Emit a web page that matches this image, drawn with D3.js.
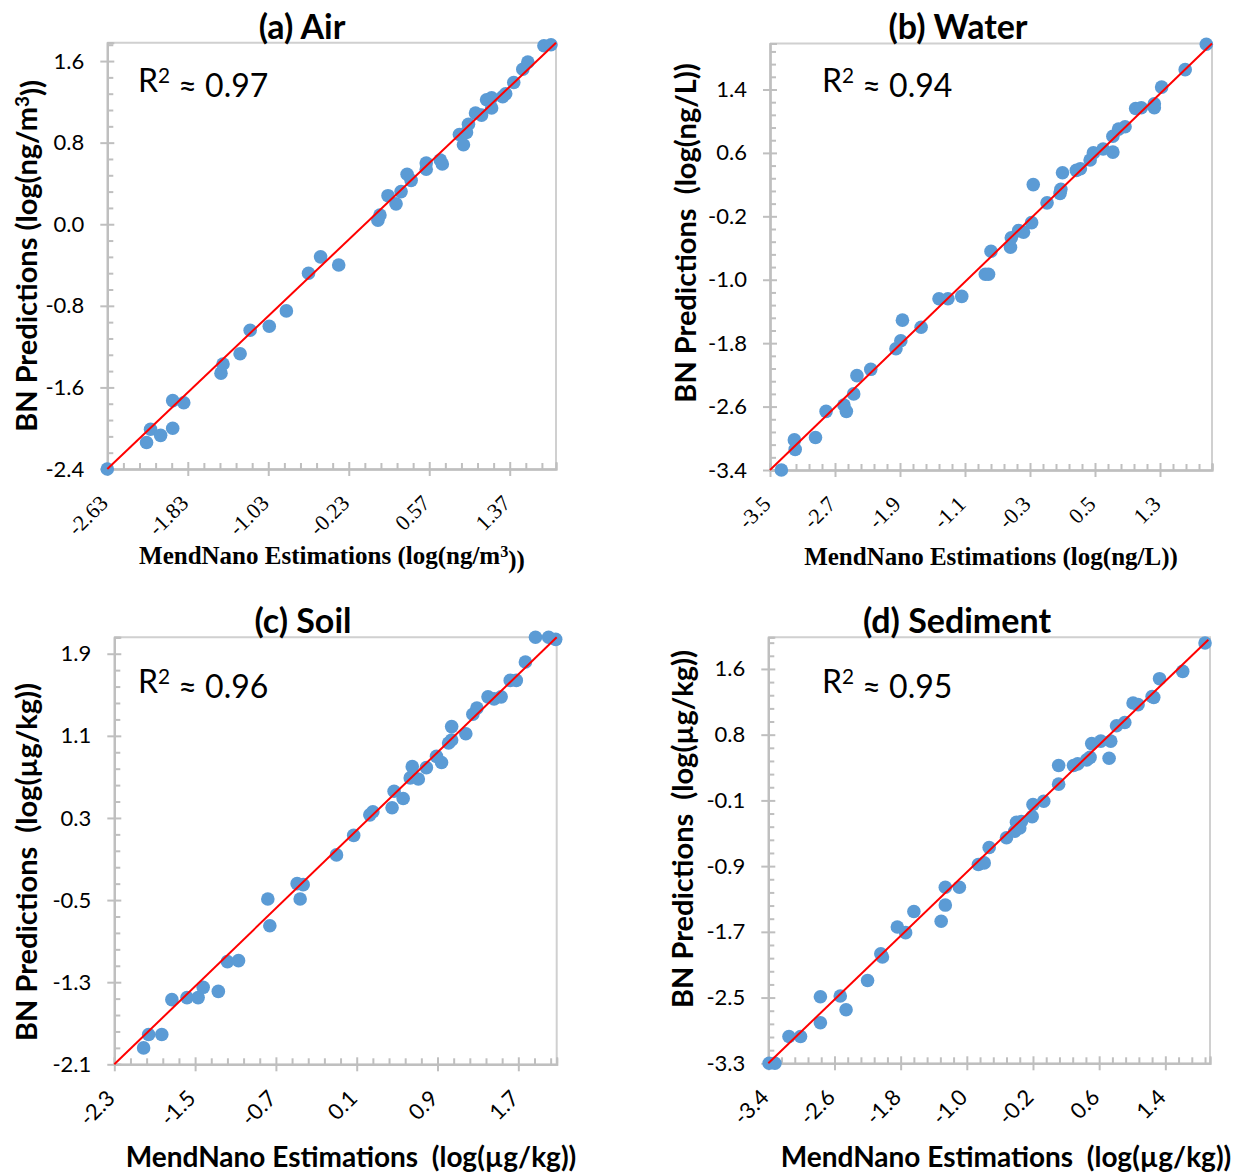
<!DOCTYPE html>
<html>
<head>
<meta charset="utf-8">
<script src="https://cdn.jsdelivr.net/npm/d3@7"></script>
<style>
  body { margin: 0; background: #fff; }
  svg { display: block; }
</style>
</head>
<body>
<svg id="fig" width="1233" height="1173"></svg>
<script>
// ---------- values: MendNano estimations (x) vs BN predictions (y) ----------
const airX = [-2.63, -2.24, -2.20, -2.10, -1.98, -1.98, -1.87, -1.50, -1.48, -1.31, -1.21, -1.02, -0.85, -0.63, -0.51, -0.33,
  0.06, 0.08, 0.16, 0.24, 0.29, 0.35, 0.39, 0.54, 0.54, 0.68, 0.70, 0.87, 0.91, 0.94, 0.96, 1.03, 1.09, 1.14, 1.19, 1.19,
  1.30, 1.33, 1.41, 1.50, 1.55, 1.71, 1.78];
const airY = [-2.40, -2.14, -2.01, -2.07, -2.00, -1.73, -1.75, -1.46, -1.37, -1.27, -1.04, -1.00, -0.85, -0.48, -0.32, -0.40,
  0.04, 0.09, 0.28, 0.20, 0.32, 0.49, 0.43, 0.60, 0.54, 0.63, 0.59, 0.88, 0.78, 0.90, 0.98, 1.09, 1.07, 1.22, 1.24, 1.14,
  1.25, 1.28, 1.39, 1.52, 1.59, 1.75, 1.76];

const waterX = [-3.36, -3.20, -3.19, -2.94, -2.81, -2.59, -2.56, -2.47, -2.43, -2.26, -1.95, -1.89, -1.87, -1.64, -1.42, -1.31,
  -1.14, -0.85, -0.81, -0.78, -0.54, -0.53, -0.44, -0.38, -0.28, -0.26, -0.09, 0.07, 0.08, 0.10, 0.27, 0.32, 0.44, 0.48,
  0.60, 0.72, 0.72, 0.79, 0.87, 1.00, 1.07, 1.23, 1.23, 1.32, 1.61, 1.87];
const waterY = [-3.40, -3.02, -3.14, -2.99, -2.66, -2.58, -2.66, -2.44, -2.21, -2.13, -1.87, -1.77, -1.51, -1.60, -1.24, -1.24,
  -1.21, -0.93, -0.93, -0.64, -0.59, -0.47, -0.38, -0.40, -0.28, 0.20, -0.03, 0.09, 0.14, 0.35, 0.38, 0.40, 0.51, 0.60,
  0.65, 0.61, 0.81, 0.90, 0.93, 1.16, 1.17, 1.17, 1.22, 1.43, 1.65, 1.97];

const soilX = [-2.01, -1.96, -1.83, -1.73, -1.58, -1.47, -1.42, -1.27, -1.18, -1.07, -0.78, -0.76, -0.49, -0.43, -0.46, -0.10,
  0.07, 0.23, 0.26, 0.45, 0.47, 0.56, 0.63, 0.65, 0.71, 0.79, 0.89, 0.94, 1.01, 1.04, 1.04, 1.18, 1.25, 1.29, 1.40, 1.46,
  1.53, 1.62, 1.68, 1.77, 1.87, 2.00, 2.07];
const soilY = [-1.94, -1.81, -1.81, -1.47, -1.45, -1.45, -1.35, -1.39, -1.10, -1.09, -0.49, -0.75, -0.34, -0.35, -0.49, -0.06,
  0.13, 0.33, 0.36, 0.40, 0.56, 0.49, 0.69, 0.80, 0.68, 0.79, 0.90, 0.84, 1.03, 1.06, 1.19, 1.12, 1.31, 1.37, 1.48, 1.46,
  1.48, 1.64, 1.64, 1.82, 2.06, 2.06, 2.04];

const sedimentX = [-3.39, -3.32, -3.15, -3.01, -2.77, -2.77, -2.53, -2.46, -2.20, -2.04, -2.02, -1.84, -1.74, -1.64, -1.31, -1.26,
  -1.26, -1.09, -0.86, -0.79, -0.73, -0.52, -0.42, -0.40, -0.34, -0.36, -0.21, -0.20, -0.07, 0.11, 0.11, 0.29, 0.34, 0.45,
  0.49, 0.51, 0.62, 0.74, 0.72, 0.81, 0.91, 1.01, 1.07, 1.24, 1.26, 1.33, 1.61, 1.88];
const sedimentY = [-3.30, -3.30, -2.97, -2.97, -2.80, -2.48, -2.47, -2.64, -2.28, -1.95, -1.99, -1.62, -1.69, -1.43, -1.55, -1.35,
  -1.13, -1.13, -0.85, -0.83, -0.64, -0.52, -0.44, -0.33, -0.32, -0.40, -0.26, -0.11, -0.07, 0.14, 0.37, 0.37, 0.39, 0.44,
  0.47, 0.64, 0.67, 0.67, 0.46, 0.86, 0.90, 1.14, 1.12, 1.22, 1.21, 1.44, 1.53, 1.88];

// trendline end points (x, y) per medium
const airFit = [[-2.63, -2.40], [1.83, 1.78]];
const waterFit = [[-3.50, -3.40], [1.94, 1.98]];
const soilFit = [[-2.30, -2.10], [2.08, 2.06]];
const sedimentFit = [[-3.40, -3.30], [1.92, 1.92]];

// tick values
const airXTicks = [-2.63, -1.83, -1.03, -0.23, 0.57, 1.37];
const airYTicks = [-2.4, -1.6, -0.8, 0.0, 0.8, 1.6];
const waterXTicks = [-3.5, -2.7, -1.9, -1.1, -0.3, 0.5, 1.3];
const waterYTicks = [-3.4, -2.6, -1.8, -1.0, -0.2, 0.6, 1.4];
const soilXTicks = [-2.3, -1.5, -0.7, 0.1, 0.9, 1.7];
const soilYTicks = [-2.1, -1.3, -0.5, 0.3, 1.1, 1.9];
const sedimentXTicks = [-3.4, -2.6, -1.8, -1.0, -0.2, 0.6, 1.4];
const sedimentYTicks = [-3.3, -2.49, -1.68, -0.87, -0.06, 0.75, 1.56];

const panelTitles = ["(a) Air", "(b) Water", "(c) Soil", "(d) Sediment"];
const r2Values = ["0.97", "0.94", "0.96", "0.95"];

// ---------- layout ----------
const SANS = "Lato, 'Open Sans', sans-serif";
const SERIF = "'Liberation Serif', 'Times New Roman', serif";

const panels = [
  { title: panelTitles[0], r2: r2Values[0], xs: airX, ys: airY, fit: airFit,
    xDomain: [-2.63, 1.83], yDomain: [-2.4, 1.78], box: { l: 107.3, r: 556, t: 42.7, b: 469 },
    xTicks: airXTicks, yTicks: airYTicks, xStep: 0.8, yStep: 0.8, xDec: 2, yDec: 1,
    xTickFont: SERIF, xTitleFont: SERIF, xTitleSize: 25, xTitleX: 332, xTitleY: 564,
    xTitle: ["MendNano Estimations (log(ng/m", "3", "))"],
    yTitle: ["BN Predictions (log(ng/m", "3", "))"], yTitleX: 27, yTitleY: 256,
    titleX: 302, titleY: 39, r2X: 138, r2Y: 92 },
  { title: panelTitles[1], r2: r2Values[1], xs: waterX, ys: waterY, fit: waterFit,
    xDomain: [-3.5, 1.94], yDomain: [-3.4, 1.98], box: { l: 770, r: 1212, t: 43.5, b: 470 },
    xTicks: waterXTicks, yTicks: waterYTicks, xStep: 0.8, yStep: 0.8, xDec: 1, yDec: 1,
    xTitleFont: SERIF, xTickFont: SERIF, xTitleSize: 25, xTitleX: 991, xTitleY: 565,
    xTitle: ["MendNano Estimations (log(ng/L))"],
    yTitle: ["BN Predictions  (log(ng/L))"], yTitleX: 686, yTitleY: 233,
    titleX: 958, titleY: 39, r2X: 822, r2Y: 92 },
  { title: panelTitles[2], r2: r2Values[2], xs: soilX, ys: soilY, fit: soilFit,
    xDomain: [-2.3, 2.08], yDomain: [-2.1, 2.06], box: { l: 114.3, r: 556.7, t: 637.3, b: 1064.3 },
    xTicks: soilXTicks, yTicks: soilYTicks, xStep: 0.8, yStep: 0.8, xDec: 1, yDec: 1,
    xTickFont: SANS, xTitleFont: SANS, xTitleSize: 28, xTitleX: 351, xTitleY: 1167,
    xTitle: ["MendNano Estimations  (log(µg/kg))"],
    yTitle: ["BN Predictions  (log(µg/kg))"], yTitleX: 27, yTitleY: 862,
    titleX: 303, titleY: 633, r2X: 138, r2Y: 693 },
  { title: panelTitles[3], r2: r2Values[3], xs: sedimentX, ys: sedimentY, fit: sedimentFit,
    xDomain: [-3.4, 1.94], yDomain: [-3.3, 1.95], box: { l: 768.3, r: 1210, t: 637.3, b: 1063.3 },
    xTicks: sedimentXTicks, yTicks: sedimentYTicks, xStep: 0.8, yStep: 0.81, xDec: 1, yDec: 1,
    xTickFont: SANS, xTitleFont: SANS, xTitleSize: 28, xTitleX: 1006, xTitleY: 1167,
    xTitle: ["MendNano Estimations  (log(µg/kg))"],
    yTitle: ["BN Predictions  (log(µg/kg))"], yTitleX: 683, yTitleY: 829,
    titleX: 957, titleY: 633, r2X: 822, r2Y: 693 }
];

const AXIS_GREY = "#bfbfbf";
const FRAME_GREY = "#d0d0d0";
const DOT_BLUE = "#5b9bd5";
const FIT_RED = "#ff0000";

const svg = d3.select("#fig");

// writes text parts, raising every second part as a superscript
function addParts(text, parts) {
  parts.forEach((s, i) => {
    if (i % 2 === 1) {
      text.append("tspan").attr("font-size", "65%").attr("dy", "-0.45em").text(s);
    } else {
      const t = text.append("tspan").text(s);
      if (i > 0) t.attr("dy", "0.45em");
    }
  });
}

function minorValues(domain, step) {
  const out = [];
  const m = step / 5;
  for (let k = 1; domain[0] + k * m <= domain[1] + 1e-9; k++) {
    if (k % 5 !== 0) out.push(domain[0] + k * m);
  }
  return out;
}

panels.forEach(p => {
  const g = svg.append("g");
  const x = d3.scaleLinear().domain(p.xDomain).range([p.box.l, p.box.r]);
  const y = d3.scaleLinear().domain(p.yDomain).range([p.box.b, p.box.t]);

  // plot frame (top and right edges)
  g.append("path")
    .attr("d", `M${p.box.l},${p.box.t}H${p.box.r}V${p.box.b}`)
    .attr("fill", "none").attr("stroke", FRAME_GREY).attr("stroke-width", 2);

  const styleAxis = sel => {
    sel.selectAll("path.domain").attr("stroke", AXIS_GREY).attr("stroke-width", 2);
    sel.selectAll(".tick line").attr("stroke", AXIS_GREY).attr("stroke-width", 2);
  };

  // minor ticks (inside)
  g.append("g").attr("transform", `translate(${p.box.l},0)`)
    .call(d3.axisLeft(y).tickValues(minorValues(p.yDomain, p.yStep)).tickSize(-6).tickFormat(""))
    .call(styleAxis);
  g.append("g").attr("transform", `translate(0,${p.box.b})`)
    .call(d3.axisBottom(x).tickValues(minorValues(p.xDomain, p.xStep)).tickSize(-6).tickFormat(""))
    .call(styleAxis);
  // major ticks, inner half
  g.append("g").attr("transform", `translate(${p.box.l},0)`)
    .call(d3.axisLeft(y).tickValues(p.yTicks).tickSize(-7).tickFormat(""))
    .call(styleAxis);
  g.append("g").attr("transform", `translate(0,${p.box.b})`)
    .call(d3.axisBottom(x).tickValues(p.xTicks).tickSize(-7).tickFormat(""))
    .call(styleAxis);

  // y axis with labels
  const yAxis = g.append("g").attr("transform", `translate(${p.box.l},0)`)
    .call(d3.axisLeft(y).tickValues(p.yTicks).tickSize(7).tickSizeOuter(0).tickPadding(16)
      .tickFormat(d => d.toFixed(p.yDec)))
    .call(styleAxis);
  yAxis.selectAll("text").attr("font-family", SANS).attr("font-size", 22).attr("fill", "#000");

  // x axis with slanted labels
  const xAxis = g.append("g").attr("transform", `translate(0,${p.box.b})`)
    .call(d3.axisBottom(x).tickValues(p.xTicks).tickSize(7).tickSizeOuter(0)
      .tickFormat(d => d.toFixed(p.xDec)))
    .call(styleAxis);
  xAxis.selectAll("text")
    .attr("font-family", p.xTickFont).attr("font-size", 22).attr("fill", "#000")
    .attr("x", 0).attr("y", 0).attr("dy", "0.35em")
    .attr("text-anchor", "end")
    .attr("transform", "translate(-4,30) rotate(-45)");

  // data points
  g.append("g").selectAll("circle")
    .data(d3.zip(p.xs, p.ys))
    .join("circle")
    .attr("cx", d => x(d[0])).attr("cy", d => y(d[1]))
    .attr("r", 6.8).attr("fill", DOT_BLUE);

  // linear trendline
  g.append("line")
    .attr("x1", x(p.fit[0][0])).attr("y1", y(p.fit[0][1]))
    .attr("x2", x(p.fit[1][0])).attr("y2", y(p.fit[1][1]))
    .attr("stroke", FIT_RED).attr("stroke-width", 2);

  // panel title
  g.append("text").attr("x", p.titleX).attr("y", p.titleY)
    .attr("text-anchor", "middle").attr("font-family", SANS).attr("font-weight", 700)
    .attr("font-size", 34).text(p.title);

  // R² annotation
  const r2 = g.append("text").attr("x", p.r2X).attr("y", p.r2Y)
    .attr("font-family", SANS).attr("font-size", 32);
  addParts(r2, ["R", "2", " \u2248 " + p.r2]);

  // axis titles
  const xt = g.append("text").attr("x", p.xTitleX).attr("y", p.xTitleY)
    .attr("text-anchor", "middle").attr("font-family", p.xTitleFont).attr("font-weight", 700)
    .attr("font-size", p.xTitleSize).style("white-space", "pre");
  addParts(xt, p.xTitle);

  const yt = g.append("text")
    .attr("transform", `translate(${p.yTitleX},${p.yTitleY}) rotate(-90)`)
    .attr("text-anchor", "middle").attr("dy", "0.35em").attr("font-family", SANS).attr("font-weight", 700)
    .attr("font-size", 29).style("white-space", "pre");
  addParts(yt, p.yTitle);
});
</script>
</body>
</html>
